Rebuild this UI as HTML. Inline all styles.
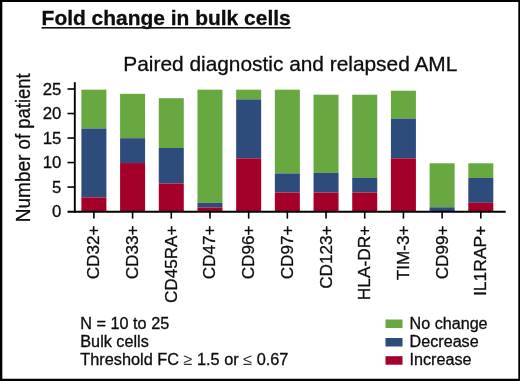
<!DOCTYPE html>
<html><head><meta charset="utf-8"><title>Fold change in bulk cells</title>
<style>
html,body{margin:0;padding:0;background:#fff;}
svg{display:block;will-change:transform;font-family:"Liberation Sans",sans-serif;fill:#0d0d0d;}
svg text{stroke:#0d0d0d;stroke-width:0.3px;}
</style></head><body>
<svg width="520" height="381" viewBox="0 0 520 381">
<rect x="0" y="0" width="520" height="381" fill="#fff"/>

<rect x="81.40" y="89.70" width="25.0" height="38.80" fill="#67a841"/>
<rect x="81.40" y="128.50" width="25.0" height="68.90" fill="#2d4b7b"/>
<rect x="81.40" y="197.40" width="25.0" height="14.00" fill="#a4002a"/>
<rect x="120.09" y="93.80" width="25.0" height="44.40" fill="#67a841"/>
<rect x="120.09" y="138.20" width="25.0" height="24.85" fill="#2d4b7b"/>
<rect x="120.09" y="163.05" width="25.0" height="48.35" fill="#a4002a"/>
<rect x="158.78" y="98.20" width="25.0" height="49.80" fill="#67a841"/>
<rect x="158.78" y="148.00" width="25.0" height="35.50" fill="#2d4b7b"/>
<rect x="158.78" y="183.50" width="25.0" height="27.90" fill="#a4002a"/>
<rect x="197.47" y="89.70" width="25.0" height="113.10" fill="#67a841"/>
<rect x="197.47" y="202.80" width="25.0" height="4.70" fill="#2d4b7b"/>
<rect x="197.47" y="207.50" width="25.0" height="3.90" fill="#a4002a"/>
<rect x="236.16" y="89.70" width="25.0" height="9.70" fill="#67a841"/>
<rect x="236.16" y="99.40" width="25.0" height="58.95" fill="#2d4b7b"/>
<rect x="236.16" y="158.35" width="25.0" height="53.05" fill="#a4002a"/>
<rect x="274.85" y="89.70" width="25.0" height="83.70" fill="#67a841"/>
<rect x="274.85" y="173.40" width="25.0" height="19.10" fill="#2d4b7b"/>
<rect x="274.85" y="192.50" width="25.0" height="18.90" fill="#a4002a"/>
<rect x="313.54" y="94.70" width="25.0" height="78.20" fill="#67a841"/>
<rect x="313.54" y="172.90" width="25.0" height="19.60" fill="#2d4b7b"/>
<rect x="313.54" y="192.50" width="25.0" height="18.90" fill="#a4002a"/>
<rect x="352.23" y="94.70" width="25.0" height="83.20" fill="#67a841"/>
<rect x="352.23" y="177.90" width="25.0" height="14.60" fill="#2d4b7b"/>
<rect x="352.23" y="192.50" width="25.0" height="18.90" fill="#a4002a"/>
<rect x="390.92" y="90.70" width="25.0" height="27.90" fill="#67a841"/>
<rect x="390.92" y="118.60" width="25.0" height="39.75" fill="#2d4b7b"/>
<rect x="390.92" y="158.35" width="25.0" height="53.05" fill="#a4002a"/>
<rect x="429.61" y="163.30" width="25.0" height="44.00" fill="#67a841"/>
<rect x="429.61" y="207.30" width="25.0" height="4.10" fill="#2d4b7b"/>
<rect x="468.30" y="163.30" width="25.0" height="14.60" fill="#67a841"/>
<rect x="468.30" y="177.90" width="25.0" height="24.90" fill="#2d4b7b"/>
<rect x="468.30" y="202.80" width="25.0" height="8.60" fill="#a4002a"/>
<g stroke="#000" stroke-width="1.6" fill="none">
<path d="M74.8 82.2V212.7" stroke-width="1.9"/>
<path d="M67.5 211.75H505.7" stroke-width="2"/>
<path d="M67.5 187.08H74.8"/>
<path d="M67.5 162.56H74.8"/>
<path d="M67.5 138.04H74.8"/>
<path d="M67.5 113.52H74.8"/>
<path d="M67.5 89.00H74.8"/>
<path d="M93.90 211.7V218.6"/>
<path d="M132.59 211.7V218.6"/>
<path d="M171.28 211.7V218.6"/>
<path d="M209.97 211.7V218.6"/>
<path d="M248.66 211.7V218.6"/>
<path d="M287.35 211.7V218.6"/>
<path d="M326.04 211.7V218.6"/>
<path d="M364.73 211.7V218.6"/>
<path d="M403.42 211.7V218.6"/>
<path d="M442.11 211.7V218.6"/>
<path d="M480.80 211.7V218.6"/>
</g>
<text x="61.3" y="217.05" font-size="16.8" text-anchor="end">0</text>
<text x="61.3" y="192.55" font-size="16.8" text-anchor="end">5</text>
<text x="61.3" y="168.05" font-size="16.8" text-anchor="end">10</text>
<text x="61.3" y="143.55" font-size="16.8" text-anchor="end">15</text>
<text x="61.3" y="119.05" font-size="16.8" text-anchor="end">20</text>
<text x="61.3" y="94.55" font-size="16.8" text-anchor="end">25</text>
<text transform="translate(99.40 279.30) rotate(-90)" font-size="17.4" textLength="53.70" lengthAdjust="spacingAndGlyphs">CD32+</text>
<text transform="translate(138.09 279.30) rotate(-90)" font-size="17.4" textLength="53.70" lengthAdjust="spacingAndGlyphs">CD33+</text>
<text transform="translate(176.78 303.06) rotate(-90)" font-size="17.4" textLength="77.46" lengthAdjust="spacingAndGlyphs">CD45RA+</text>
<text transform="translate(215.47 279.30) rotate(-90)" font-size="17.4" textLength="53.70" lengthAdjust="spacingAndGlyphs">CD47+</text>
<text transform="translate(254.16 279.30) rotate(-90)" font-size="17.4" textLength="53.70" lengthAdjust="spacingAndGlyphs">CD96+</text>
<text transform="translate(292.85 279.30) rotate(-90)" font-size="17.4" textLength="53.70" lengthAdjust="spacingAndGlyphs">CD97+</text>
<text transform="translate(331.54 288.81) rotate(-90)" font-size="17.4" textLength="63.21" lengthAdjust="spacingAndGlyphs">CD123+</text>
<text transform="translate(370.23 300.14) rotate(-90)" font-size="17.4" textLength="74.54" lengthAdjust="spacingAndGlyphs">HLA-DR+</text>
<text transform="translate(408.92 280.23) rotate(-90)" font-size="17.4" textLength="54.63" lengthAdjust="spacingAndGlyphs">TIM-3+</text>
<text transform="translate(447.61 279.30) rotate(-90)" font-size="17.4" textLength="53.70" lengthAdjust="spacingAndGlyphs">CD99+</text>
<text transform="translate(486.30 296.02) rotate(-90)" font-size="17.4" textLength="70.42" lengthAdjust="spacingAndGlyphs">IL1RAP+</text>
<text transform="translate(30.3 222.3) rotate(-90)" font-size="21" textLength="67.78" lengthAdjust="spacingAndGlyphs">Number</text>
<text transform="translate(30.3 149.39) rotate(-90)" font-size="21" textLength="76.09" lengthAdjust="spacingAndGlyphs">of patient</text>
<text x="41.6" y="25.2" font-size="20.8" font-weight="bold" textLength="249.1" lengthAdjust="spacingAndGlyphs">Fold change in bulk cells</text>
<rect x="41.5" y="27.0" width="249.2" height="1.6" fill="#111"/>
<text x="123.3" y="71.1" font-size="20.7" textLength="334" lengthAdjust="spacingAndGlyphs">Paired diagnostic and relapsed AML</text>
<text x="80.3" y="328.8" font-size="16.1" textLength="88.9" lengthAdjust="spacingAndGlyphs">N = 10 to 25</text>
<text x="80.3" y="346.9" font-size="16.1" textLength="68.5" lengthAdjust="spacingAndGlyphs">Bulk cells</text>
<text x="80.3" y="365.4" font-size="16.1" textLength="208.1" lengthAdjust="spacingAndGlyphs">Threshold FC <tspan style="stroke:none;fill:#333">≥</tspan> 1.5 or <tspan style="stroke:none;fill:#333">≤</tspan> 0.67</text>
<rect x="385.5" y="319.5" width="17" height="8.5" fill="#67a841"/>
<text x="409.5" y="328.8" font-size="16" textLength="78.1" lengthAdjust="spacingAndGlyphs">No change</text>
<rect x="385.5" y="338" width="17" height="8.5" fill="#2d4b7b"/>
<text x="409.5" y="346.9" font-size="16" textLength="69.2" lengthAdjust="spacingAndGlyphs">Decrease</text>
<rect x="385.5" y="356.2" width="17" height="8.5" fill="#a4002a"/>
<text x="409.5" y="365.3" font-size="16" textLength="62.1" lengthAdjust="spacingAndGlyphs">Increase</text>
<path d="M0 0H520V381H0Z M2.3 2H518.3V378.75H2.3Z" fill="#000" fill-rule="evenodd"/>
</svg></body></html>
